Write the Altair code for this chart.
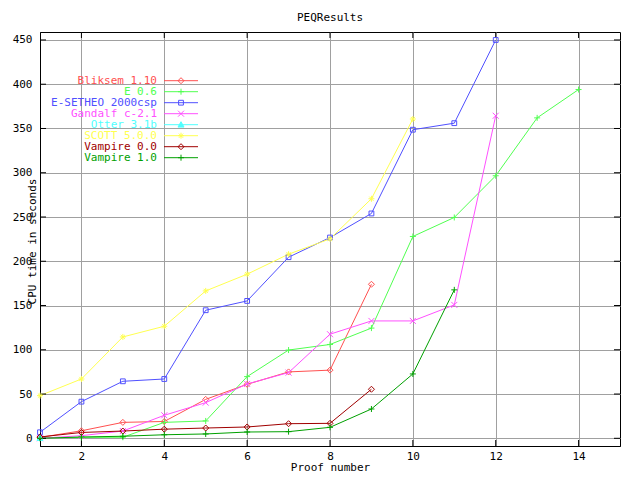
import altair as alt
import pandas as pd

# ---- data ----
series_names = ["Bliksem 1.10", "E 0.6", "E-SETHEO 2000csp", "Gandalf c-2.1",
                "Otter 3.1b", "SCOTT 5.0.0", "Vampire 0.0", "Vampire 1.0"]
bliksem = [1.0, 8.5, 18.0, 19.0, 44.0, 61.0, 75.0, 77.0, 174.0]
e06 = [0.5, 1.0, 1.2, 18.0, 19.6, 69.7, 99.7, 106.0, 124.5, 228.0, 249.5, 296.6, 362.0, 394.0]
esetheo = [6.8, 41.4, 64.4, 67.0, 144.7, 155.2, 204.6, 226.8, 254.0, 348.6, 356.0, 450.0]
gandalf = [0.0, 3.0, 8.2, 26.0, 40.3, 61.4, 74.2, 117.6, 132.6, 132.6, 150.7, 364.4]
otter = [0.3]
scott = [48.2, 67.0, 114.5, 126.6, 166.5, 185.4, 208.0, 225.3, 270.6, 360.7]
vampire0 = [1.5, 6.6, 8.2, 10.3, 11.6, 12.8, 16.5, 16.9, 55.4]
vampire1 = [0.0, 1.5, 2.3, 4.0, 4.9, 7.1, 7.5, 12.4, 33.1, 72.7, 167.7]
all_values = [bliksem, e06, esetheo, gandalf, otter, scott, vampire0, vampire1]

x_ticks = [2, 4, 6, 8, 10, 12, 14]
y_ticks = [0, 50, 100, 150, 200, 250, 300, 350, 400, 450]

colors = ["#ff5050", "#50ff50", "#5050ff", "#ff50ff", "#50ffff", "#ffff50", "#a00000", "#00a000"]
fills = ["transparent", "transparent", "transparent", "transparent", "#50ffff",
         "transparent", "transparent", "transparent"]
shapes = [
    "M0,-1L1,0L0,1L-1,0Z",
    "M-1,0L1,0M0,-1L0,1",
    "M-0.8,-0.8L0.8,-0.8L0.8,0.8L-0.8,0.8Z",
    "M-1,-1L1,1M-1,1L1,-1",
    "M0,-1L1,0.8L-1,0.8Z",
    "M-1,0L1,0M0,-1L0,1M-0.7,-0.7L0.7,0.7M-0.7,0.7L0.7,-0.7",
    "M0,-1L1,0L0,1L-1,0Z",
    "M-1,0L1,0M0,-1L0,1",
]

rows = []
for name, vals in zip(series_names, all_values):
    for i, v in enumerate(vals):
        rows.append({"series": name, "proof": i + 1, "cpu": v})
df = pd.DataFrame(rows)

leg = pd.DataFrame({"series": series_names, "idx": list(range(len(series_names)))})
xt = pd.DataFrame({"proof": x_ticks})
yt = pd.DataFrame({"cpu": y_ticks})

MONO = "DejaVu Sans Mono"
W, H = 580, 414

xscale = alt.Scale(domain=[1, 15], nice=False, zero=False)
yscale = alt.Scale(domain=[-8.7, 459], nice=False, zero=False)
cscale = alt.Scale(domain=series_names, range=colors)
sscale = alt.Scale(domain=series_names, range=shapes)
fscale = alt.Scale(domain=series_names, range=fills)

xaxis = alt.Axis(values=x_ticks, title="Proof number", grid=True, ticks=False,
                 labelPadding=4, titleY=15, titleFontWeight="normal")
yaxis = alt.Axis(values=y_ticks, title="CPU time in seconds", grid=True, ticks=False,
                 labelPadding=8, titleX=-8, titleY=209, titleBaseline="middle",
                 titleFontWeight="normal")
X = alt.X("proof:Q", scale=xscale, axis=xaxis)
Y = alt.Y("cpu:Q", scale=yscale, axis=yaxis)

base = alt.Chart(df)
lines = base.mark_line(strokeWidth=1, clip=True).encode(
    x=X, y=Y,
    color=alt.Color("series:N", scale=cscale, legend=None),
    detail="series:N",
)
points = base.mark_point(size=36, strokeWidth=1, filled=False, opacity=1).encode(
    x=X, y=Y,
    stroke=alt.Stroke("series:N", scale=cscale, legend=None),
    shape=alt.Shape("series:N", scale=sscale, legend=None),
    fill=alt.Fill("series:N", scale=fscale, legend=None),
)

# inward ticks on all four borders
xtick_b = alt.Chart(xt).mark_rule(color="black", strokeWidth=1).encode(
    x=X, y=alt.value(H), y2=alt.value(H - 6))
xtick_t = alt.Chart(xt).mark_rule(color="black", strokeWidth=1).encode(
    x=X, y=alt.value(0), y2=alt.value(6))
ytick_l = alt.Chart(yt).mark_rule(color="black", strokeWidth=1).encode(
    y=Y, x=alt.value(0), x2=alt.value(6))
ytick_r = alt.Chart(yt).mark_rule(color="black", strokeWidth=1).encode(
    y=Y, x=alt.value(W - 6), x2=alt.value(W))

# gnuplot-style legend: label on the left, sample on the right
legbase = alt.Chart(leg).transform_calculate(ly="48.7 + 11 * datum.idx")
leg_text = legbase.mark_text(align="right", baseline="middle", font=MONO, fontSize=11).encode(
    x=alt.value(117), y=alt.Y("ly:Q", scale=None),
    text="series:N",
    color=alt.Color("series:N", scale=cscale, legend=None),
)
leg_rule = legbase.mark_rule(strokeWidth=1).encode(
    x=alt.value(124), x2=alt.value(158), y=alt.Y("ly:Q", scale=None),
    color=alt.Color("series:N", scale=cscale, legend=None),
)
leg_pt = legbase.mark_point(size=36, strokeWidth=1, filled=False, opacity=1).encode(
    x=alt.value(141), y=alt.Y("ly:Q", scale=None),
    stroke=alt.Stroke("series:N", scale=cscale, legend=None),
    shape=alt.Shape("series:N", scale=sscale, legend=None),
    fill=alt.Fill("series:N", scale=fscale, legend=None),
)

chart = alt.layer(
    lines, xtick_b, xtick_t, ytick_l, ytick_r, points, leg_rule, leg_pt, leg_text
).properties(
    width=W, height=H,
    title=alt.TitleParams("PEQResults", font=MONO, fontSize=11, fontWeight="normal",
                          anchor="middle", offset=9, color="black"),
    autosize=alt.AutoSizeParams(type="none"),
    padding={"left": 32, "top": 24, "right": 12, "bottom": 26},
    background="white",
).configure_axis(
    labelFont=MONO, labelFontSize=11, labelColor="black",
    titleFont=MONO, titleFontSize=11, titleColor="black",
    gridColor="#a0a0a0", gridOpacity=1, gridWidth=1,
    domainColor="black", domainWidth=1,
).configure_view(stroke="black", strokeWidth=1)

chart.save("out.html", embed_options={"renderer": "svg", "actions": False})
